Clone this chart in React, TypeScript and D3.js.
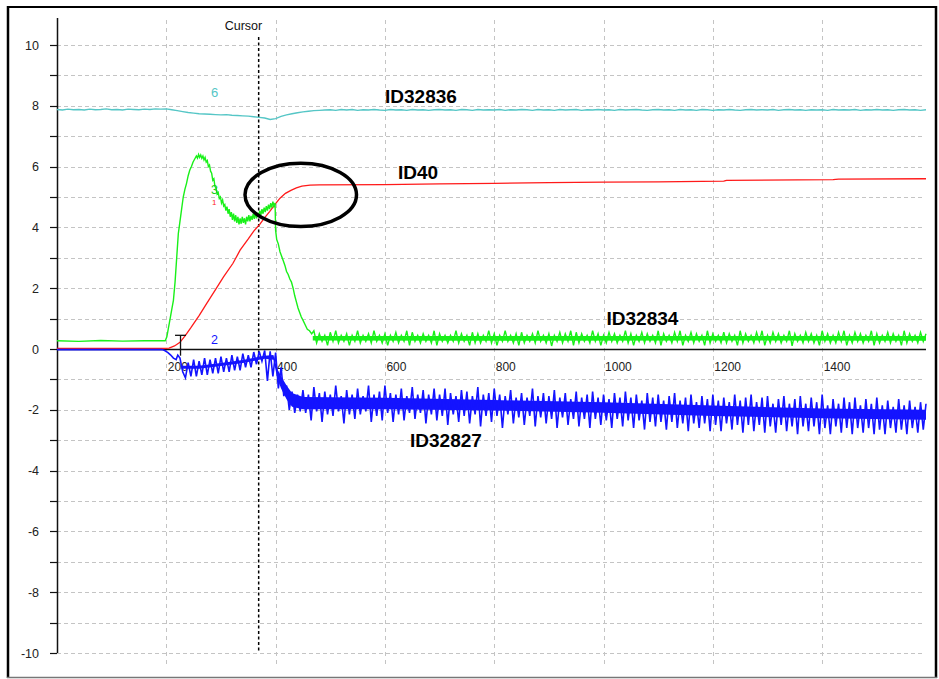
import React from "react";
import * as d3 from "d3";

// ---- axis ticks ----
const X_TICKS = [200, 400, 600, 800, 1000, 1200, 1400];
const Y_LABELS = [10, 8, 6, 4, 2, 0, -2, -4, -6, -8, -10];
const Y_GRID = [-10, -9, -8, -7, -6, -5, -4, -3, -2, -1, 1, 2, 3, 4, 5, 6, 7, 8, 9, 10];
const X_DOMAIN: [number, number] = [0, 1590];
const Y_DOMAIN: [number, number] = [-10, 10];

// ---- cursor ----
const CURSOR_X = 369;

// ---- ID32836 (trace 6), sampled every 10 from 0 ----
const CYAN_START = 0;
const CYAN_STEP = 10;
const CYAN_VALUES = [
  7.88, 7.86, 7.89, 7.87, 7.88, 7.86, 7.89, 7.87, 7.88, 7.9,
  7.87, 7.88, 7.86, 7.89, 7.88, 7.87, 7.89, 7.88, 7.9, 7.89,
  7.9, 7.87, 7.84, 7.81, 7.78, 7.76, 7.74, 7.73, 7.72, 7.71,
  7.7, 7.71, 7.69, 7.68, 7.67, 7.66, 7.64, 7.62, 7.6, 7.55,
  7.58, 7.65, 7.7, 7.74, 7.77, 7.8, 7.82, 7.84, 7.85, 7.86,
  7.87, 7.85, 7.88, 7.86, 7.88, 7.85, 7.87, 7.86, 7.88, 7.86,
  7.85, 7.88, 7.86, 7.87, 7.85, 7.88, 7.86, 7.87, 7.85, 7.87,
  7.88, 7.86, 7.87, 7.85, 7.88, 7.87, 7.85, 7.88, 7.86, 7.87,
  7.86, 7.88, 7.85, 7.87, 7.86, 7.88, 7.87, 7.85, 7.88, 7.86,
  7.87, 7.85, 7.88, 7.86, 7.87, 7.88, 7.85, 7.87, 7.86, 7.88,
  7.86, 7.87, 7.85, 7.88, 7.86, 7.87, 7.88, 7.86, 7.85, 7.87,
  7.88, 7.86, 7.87, 7.85, 7.88, 7.86, 7.87, 7.85, 7.88, 7.87,
  7.85, 7.87, 7.86, 7.88, 7.86, 7.85, 7.87, 7.88, 7.86, 7.87,
  7.86, 7.88, 7.85, 7.87, 7.88, 7.86, 7.87, 7.85, 7.87, 7.86,
  7.87, 7.85, 7.88, 7.86, 7.87, 7.86, 7.88, 7.85, 7.87, 7.86,
  7.88, 7.86, 7.87, 7.85, 7.87, 7.88, 7.86, 7.87, 7.85, 7.87,
];

// ---- ID40 (trace 1) ----
const RED_POINTS: [number, number][] = [
  [0, 0.02], [195, 0.02], [205, 0.03], [215, 0.1], [225, 0.22], [235, 0.45],
  [245, 0.7], [260, 1.1], [274, 1.5], [290, 1.95], [305, 2.38], [322, 2.82],
  [335, 3.25], [350, 3.62], [360, 3.88], [371, 4.1], [380, 4.32], [389, 4.52],
  [400, 4.78], [408, 4.96], [418, 5.12], [428, 5.22], [438, 5.3], [448, 5.36],
  [463, 5.39], [480, 5.4], [600, 5.41], [700, 5.43], [800, 5.45], [900, 5.47],
  [1000, 5.49], [1100, 5.5], [1220, 5.52], [1225, 5.55], [1420, 5.57],
  [1430, 5.59], [1590, 5.6],
];

// ---- ID32834 (trace 3): rise, hump and fall ----
const GREEN_POINTS: [number, number][] = [
  [0, 0.27], [40, 0.25], [80, 0.28], [120, 0.26], [160, 0.27], [198, 0.27],
  [201, 0.4], [204, 0.7], [207, 1.0], [210, 1.3], [213, 1.6], [216, 2.2],
  [219, 3.0], [222, 3.8], [225, 4.2], [228, 4.6], [231, 5.0], [234, 5.25],
  [237, 5.45], [240, 5.7], [243, 5.89], [246, 6.0], [249, 6.15], [252, 6.25],
  [255, 6.35], [257, 6.28], [259, 6.4], [261, 6.3], [263, 6.38], [265, 6.27],
  [267, 6.35], [269, 6.22], [271, 6.3], [273, 6.15], [275, 6.2], [277, 6.0],
  [279, 6.05], [281, 5.85], [283, 5.78], [285, 5.55], [287, 5.6], [289, 5.35],
  [291, 5.3], [293, 5.1], [295, 5.15], [297, 4.95], [299, 5.0], [301, 4.8],
  [303, 4.9], [305, 4.7], [307, 4.75], [309, 4.55], [311, 4.68], [313, 4.45],
  [315, 4.6], [317, 4.35], [319, 4.5], [321, 4.25], [323, 4.45], [325, 4.2],
  [327, 4.4], [329, 4.15], [331, 4.35], [333, 4.1], [335, 4.3], [337, 4.12],
  [339, 4.35], [341, 4.15], [343, 4.3], [345, 4.1], [347, 4.35], [349, 4.2],
  [351, 4.4], [353, 4.2], [355, 4.38], [357, 4.25], [359, 4.45], [361, 4.28],
  [363, 4.5], [365, 4.3], [367, 4.48], [369, 4.35], [371, 4.55], [373, 4.4],
  [375, 4.6], [377, 4.45], [379, 4.65], [381, 4.5], [383, 4.7], [385, 4.55],
  [387, 4.75], [389, 4.6], [391, 4.8], [393, 4.65], [395, 4.85], [397, 4.7],
  [399, 4.8], [400, 3.9], [402, 3.6], [405, 3.45], [408, 3.2], [411, 3.05],
  [414, 2.9], [417, 2.75], [420, 2.55], [423, 2.45], [426, 2.3], [429, 2.2],
  [432, 2.0], [435, 1.75], [438, 1.55], [441, 1.35], [444, 1.2], [447, 1.05],
  [450, 0.95], [454, 0.8], [458, 0.65], [462, 0.6], [466, 0.5],
];

// ---- ID32834 ripple after settling, sampled every 5 from 470 ----
const GREEN_TAIL_START = 470;
const GREEN_TAIL_STEP = 5;
const GREEN_TAIL = [
  0.6, 0.2, 0.5, 0.25, 0.45, 0.12, 0.55, 0.25, 0.6, 0.2,
  0.45, 0.25, 0.5, 0.12, 0.45, 0.25, 0.6, 0.2, 0.45, 0.25,
  0.5, 0.2, 0.6, 0.25, 0.45, 0.2, 0.5, 0.12, 0.45, 0.25,
  0.55, 0.2, 0.45, 0.25, 0.6, 0.12, 0.55, 0.25, 0.45, 0.2,
  0.5, 0.25, 0.45, 0.2, 0.6, 0.12, 0.5, 0.25, 0.45, 0.2,
  0.45, 0.25, 0.6, 0.2, 0.5, 0.25, 0.45, 0.12, 0.55, 0.2,
  0.5, 0.2, 0.45, 0.25, 0.6, 0.2, 0.5, 0.12, 0.45, 0.25,
  0.6, 0.25, 0.45, 0.2, 0.5, 0.12, 0.55, 0.2, 0.45, 0.25,
  0.5, 0.2, 0.6, 0.25, 0.45, 0.2, 0.5, 0.1, 0.45, 0.25,
  0.55, 0.2, 0.5, 0.25, 0.6, 0.12, 0.55, 0.2, 0.5, 0.25,
  0.45, 0.2, 0.6, 0.25, 0.5, 0.12, 0.45, 0.2, 0.55, 0.25,
  0.5, 0.2, 0.45, 0.25, 0.6, 0.2, 0.5, 0.12, 0.45, 0.25,
  0.55, 0.2, 0.5, 0.25, 0.45, 0.2, 0.6, 0.12, 0.5, 0.25,
  0.45, 0.2, 0.55, 0.25, 0.6, 0.12, 0.45, 0.25, 0.55, 0.2,
  0.5, 0.25, 0.45, 0.12, 0.6, 0.2, 0.5, 0.25, 0.45, 0.2,
  0.55, 0.2, 0.5, 0.25, 0.45, 0.12, 0.6, 0.2, 0.5, 0.25,
  0.45, 0.2, 0.55, 0.25, 0.6, 0.12, 0.45, 0.2, 0.55, 0.25,
  0.5, 0.2, 0.45, 0.25, 0.6, 0.1, 0.5, 0.25, 0.45, 0.2,
  0.55, 0.25, 0.5, 0.2, 0.45, 0.12, 0.6, 0.25, 0.5, 0.2,
  0.45, 0.2, 0.55, 0.25, 0.6, 0.12, 0.45, 0.2, 0.55, 0.25,
  0.5, 0.2, 0.45, 0.25, 0.6, 0.12, 0.5, 0.2, 0.45, 0.25,
  0.55, 0.2, 0.5, 0.25, 0.45, 0.12, 0.6, 0.2, 0.5, 0.25,
  0.45, 0.2, 0.55, 0.25, 0.5,
];
// dense core of the ripple band: [x, upper, lower]
const GREEN_CORE: [number, number, number][] = [
  [468, 0.43, 0.28], [800, 0.43, 0.27], [1200, 0.43, 0.28], [1590, 0.43, 0.27],
];

// ---- ID32827 (trace 2) ----
const BLUE_HEAD: [number, number][] = [
  [0, -0.02], [150, -0.02], [192, -0.02], [197, -0.05], [203, -0.12],
  [208, -0.2], [213, -0.3], [218, -0.35], [221, -0.2],
];
const BLUE_START = 225;
const BLUE_STEP = 5;
const BLUE_VALUES = [
  // 225 – 400
  -0.3, -0.75, -0.95, -0.45, -0.9, -0.35, -0.9, -0.4, -0.85, -0.3,
  -0.85, -0.35, -0.8, -0.3, -0.8, -0.25, -0.75, -0.3, -0.75, -0.2,
  -0.7, -0.25, -0.7, -0.15, -0.6, -0.2, -0.6, -0.1, -0.5, -0.08,
  -0.4, -0.05, -1.05, -0.08, -0.9, -0.12,
  // 405 – 445
  -1.3, -0.6, -1.55, -1.2, -2.0, -1.4, -2.1, -1.5, -2.05,
  // 450 – 1590
  -1.35, -2.1, -1.5, -2.35, -1.25, -2.05, -1.45, -2.4, -1.4, -2.15,
  -1.5, -2.2, -1.2, -2.05, -1.55, -2.45, -1.35, -2.15, -1.5, -2.3,
  -1.3, -2.15, -1.55, -2.05, -1.2, -2.4, -1.5, -2.2, -1.4, -2.35,
  -1.2, -2.1, -1.45, -2.4, -1.5, -2.15, -1.3, -2.35, -1.55, -2.1,
  -1.25, -2.3, -1.5, -2.1, -1.35, -2.45, -1.5, -2.15, -1.3, -2.35,
  -1.5, -2.2, -1.3, -2.5, -1.45, -2.15, -1.55, -2.4, -1.35, -2.2,
  -1.4, -2.45, -1.55, -2.15, -1.25, -2.55, -1.5, -2.2, -1.45, -2.4,
  -1.3, -2.2, -1.5, -2.6, -1.55, -2.15, -1.35, -2.45, -1.6, -2.25,
  -1.45, -2.5, -1.6, -2.2, -1.3, -2.55, -1.55, -2.25, -1.45, -2.45,
  -1.55, -2.3, -1.35, -2.6, -1.6, -2.25, -1.45, -2.5, -1.65, -2.3,
  -1.4, -2.55, -1.6, -2.3, -1.5, -2.6, -1.4, -2.3, -1.6, -2.5,
  -1.5, -2.35, -1.65, -2.6, -1.45, -2.3, -1.6, -2.55, -1.4, -2.35,
  -1.6, -2.6, -1.5, -2.35, -1.7, -2.65, -1.45, -2.4, -1.6, -2.55,
  -1.5, -2.4, -1.7, -2.65, -1.55, -2.4, -1.45, -2.6, -1.7, -2.45,
  -1.6, -2.7, -1.5, -2.45, -1.75, -2.6, -1.55, -2.45, -1.65, -2.7,
  -1.5, -2.5, -1.7, -2.7, -1.6, -2.45, -1.75, -2.65, -1.5, -2.5,
  -1.7, -2.75, -1.6, -2.5, -1.5, -2.7, -1.75, -2.5, -1.6, -2.75,
  -1.55, -2.55, -1.8, -2.75, -1.65, -2.5, -1.55, -2.7, -1.8, -2.55,
  -1.65, -2.8, -1.55, -2.55, -1.8, -2.7, -1.6, -2.55, -1.75, -2.8,
  -1.5, -2.6, -1.85, -2.8, -1.65, -2.55, -1.8, -2.75, -1.6, -2.6,
  -1.75, -2.8, -1.6, -2.6, -1.85, -2.75, -1.65, -2.6, -1.8, -2.8,
  -1.6, -2.65, -1.85, -2.8, -1.7, -2.6, -1.9, -2.75, -1.65, -2.65,
  -1.85, -2.8, -1.7, -2.6, -1.9, -2.75, -1.75, -2.65, -1.8,
];
// dense core of the blue band: [x, upper, lower]
const BLUE_CORE: [number, number, number][] = [
  [228, -0.55, -0.65], [260, -0.55, -0.65], [300, -0.46, -0.56], [340, -0.36, -0.46],
  [380, -0.22, -0.32], [396, -0.2, -0.35], [403, -0.65, -0.95], [410, -0.9, -1.3],
  [420, -1.2, -1.65], [430, -1.45, -1.9], [450, -1.58, -1.98], [600, -1.6, -1.98],
  [800, -1.68, -2.02], [1000, -1.75, -2.1], [1200, -1.86, -2.2], [1400, -1.96, -2.28],
  [1590, -2.0, -2.33],
];

// ---- annotations ----
const MARKER_X = 226;
const MARKER_RANGE: [number, number] = [-0.22, 0.45];
const FOCUS = { x: 446, y: 5.07, rx: 102, ry: 1.04 };

const FONT = "Arial, 'Liberation Sans', Helvetica, sans-serif";

const COLORS = {
  cyan: "#55c6c6",
  red: "#ff1a1a",
  green: "#19f019",
  blue: "#1414ff",
};

function sampled(start: number, step: number, values: number[]): [number, number][] {
  return values.map((v, i) => [start + i * step, v] as [number, number]);
}

export default function App() {
  const W = 939;
  const H = 679;
  const plot = { left: 57, right: 926, top: 45, bottom: 653 };

  const x = d3.scaleLinear().domain(X_DOMAIN).range([plot.left, plot.right]);
  const y = d3.scaleLinear().domain(Y_DOMAIN).range([plot.bottom, plot.top]);

  const line = d3
    .line<[number, number]>()
    .x((d) => x(d[0]))
    .y((d) => y(d[1]));

  const band = d3
    .area<[number, number, number]>()
    .x((d) => x(d[0]))
    .y0((d) => y(d[2]))
    .y1((d) => y(d[1]));

  const cyan = sampled(CYAN_START, CYAN_STEP, CYAN_VALUES);
  const green = [...GREEN_POINTS, ...sampled(GREEN_TAIL_START, GREEN_TAIL_STEP, GREEN_TAIL)];
  const blue = [...BLUE_HEAD, ...sampled(BLUE_START, BLUE_STEP, BLUE_VALUES)];

  const gridColor = "#c4c4c4";
  const x0 = y(0);

  return (
    <div style={{ position: "fixed", left: 0, top: 0, width: W, height: H, background: "#fff" }}>
      <svg width={W} height={H} style={{ display: "block" }} fontFamily={FONT}>
        <rect x={0} y={0} width={W} height={H} fill="#fff" />

        {/* horizontal grid */}
        {Y_GRID.map((v) => (
          <line
            key={"hg" + v}
            x1={plot.left}
            x2={923}
            y1={Math.round(y(v)) + 0.5}
            y2={Math.round(y(v)) + 0.5}
            stroke={gridColor}
            strokeDasharray="4,3"
          />
        ))}
        {/* vertical grid */}
        {X_TICKS.map((v) => (
          <line
            key={"vg" + v}
            x1={Math.round(x(v)) + 0.5}
            x2={Math.round(x(v)) + 0.5}
            y1={20}
            y2={667}
            stroke={gridColor}
            strokeDasharray="4,4"
          />
        ))}

        {/* y axis */}
        <line x1={plot.left + 0.5} x2={plot.left + 0.5} y1={18} y2={y(-10)} stroke="#111" strokeWidth={1.5} />
        {Y_GRID.concat([0]).map((v) => (
          <line
            key={"yt" + v}
            x1={plot.left - 7}
            x2={plot.left}
            y1={Math.round(y(v)) + 0.5}
            y2={Math.round(y(v)) + 0.5}
            stroke="#111"
            strokeWidth={1.2}
          />
        ))}
        {Y_LABELS.map((v) => (
          <text key={"yl" + v} x={39} y={y(v) + 4.5} textAnchor="end" fontSize={12.5} fill="#222">
            {v}
          </text>
        ))}

        {/* x axis along zero */}
        <line x1={plot.left} x2={plot.right} y1={x0 + 0.5} y2={x0 + 0.5} stroke="#111" strokeWidth={1.5} />
        {X_TICKS.map((v) => (
          <text key={"xl" + v} x={x(v) + 1.5} y={x0 + 21.5} fontSize={12} fill="#222">
            {v}
          </text>
        ))}

        {/* cursor */}
        <line
          x1={x(CURSOR_X)}
          x2={x(CURSOR_X)}
          y1={37}
          y2={y(-10)}
          stroke="#000"
          strokeWidth={1.5}
          strokeDasharray="3,2.5"
        />
        <text x={x(CURSOR_X) + 3.5} y={30} textAnchor="end" fontSize={12.5} fill="#111">
          Cursor
        </text>

        {/* traces */}
        <path d={line(cyan) ?? ""} fill="none" stroke={COLORS.cyan} strokeWidth={1.4} />
        <path d={line(RED_POINTS) ?? ""} fill="none" stroke={COLORS.red} strokeWidth={1.3} />
        <path d={band(GREEN_CORE) ?? ""} fill={COLORS.green} stroke="none" />
        <path d={line(green) ?? ""} fill="none" stroke={COLORS.green} strokeWidth={1.4} />
        <path d={band(BLUE_CORE) ?? ""} fill={COLORS.blue} stroke="none" />
        <path d={line(blue) ?? ""} fill="none" stroke={COLORS.blue} strokeWidth={1.6} />

        {/* trace numbers */}
        <text x={211} y={97} fontSize={13} fill={COLORS.cyan}>6</text>
        <text x={211} y={194} fontSize={12.5} fill="#19d019">3</text>
        <text x={212} y={205} fontSize={8} fill={COLORS.red}>1</text>
        <text x={211} y={344} fontSize={12.5} fill={COLORS.blue}>2</text>

        {/* marker on the rising edge */}
        <line
          x1={x(MARKER_X)}
          x2={x(MARKER_X)}
          y1={y(MARKER_RANGE[1])}
          y2={y(MARKER_RANGE[0])}
          stroke="#111"
          strokeWidth={1.3}
        />
        <line
          x1={x(MARKER_X) - 5.5}
          x2={x(MARKER_X) + 5.5}
          y1={y(MARKER_RANGE[1])}
          y2={y(MARKER_RANGE[1])}
          stroke="#111"
          strokeWidth={1.3}
        />

        {/* highlight */}
        <ellipse
          cx={x(FOCUS.x)}
          cy={y(FOCUS.y)}
          rx={x(FOCUS.x + FOCUS.rx) - x(FOCUS.x)}
          ry={y(FOCUS.y - FOCUS.ry) - y(FOCUS.y)}
          fill="none"
          stroke="#000"
          strokeWidth={3.5}
        />

        {/* trace names */}
        <g fontSize={19} fontWeight="bold" fill="#000">
          <text x={385} y={103.3}>ID32836</text>
          <text x={398} y={179}>ID40</text>
          <text x={606.5} y={325}>ID32834</text>
          <text x={410} y={446.7}>ID32827</text>
        </g>

        {/* frame */}
        <line x1={7} x2={937} y1={7} y2={7} stroke="#000" strokeWidth={2} />
        <line x1={8} x2={8} y1={6} y2={678} stroke="#000" strokeWidth={2.5} />
        <line x1={936} x2={936} y1={6} y2={678} stroke="#000" strokeWidth={2.5} />
        <line x1={7} x2={937} y1={677.5} y2={677.5} stroke="#777" strokeWidth={1.5} />
      </svg>
    </div>
  );
}
